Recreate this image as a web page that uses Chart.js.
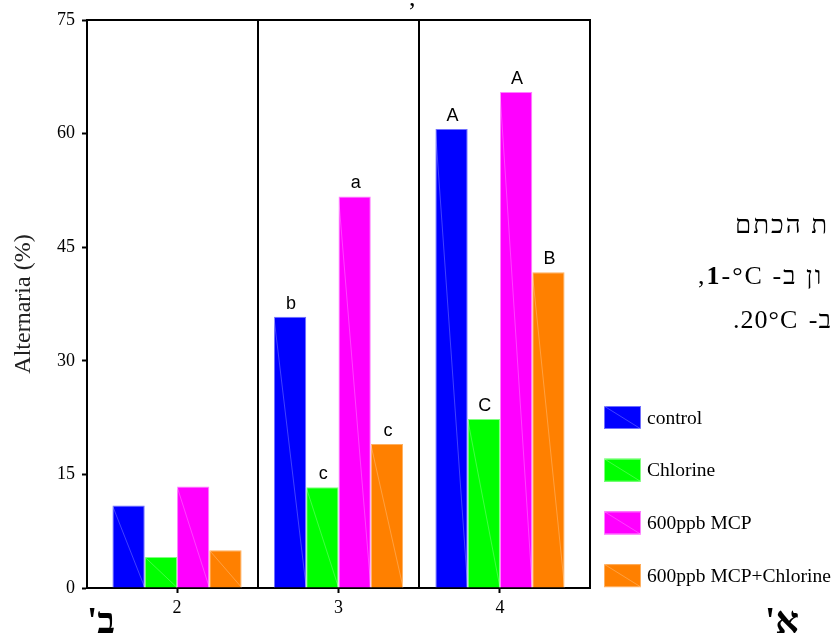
<!DOCTYPE html>
<html lang="he">
<head>
<meta charset="utf-8">
<script src="https://cdn.jsdelivr.net/npm/chart.js@4.4.1/dist/chart.umd.min.js"></script>
<style>
  html, body { margin: 0; padding: 0; width: 832px; height: 637px; overflow: hidden; background: #fff; }
  #wrap { position: relative; width: 832px; height: 637px; overflow: hidden; }
  canvas { position: absolute; left: 0; top: 0; }
  .he { position: absolute; font-family: 'Liberation Serif', serif; font-size: 26px; line-height: 1; white-space: nowrap; color: #000; }
  .big { font-weight: bold; font-size: 37px; }
</style>
</head>
<body>
<div id="wrap">
  <canvas id="chart" width="832" height="637"></canvas>
  <div class="he" style="left:409px; top:-15px;">,</div>
  <div class="he" dir="rtl" style="left:735px; top:212px; letter-spacing:2px;">ת הכתם</div>
  <div class="he" dir="rtl" style="left:698px; top:263px; letter-spacing:2px;">ון ב- <span dir="ltr"><b>1</b>-°C</span>,</div>
  <div class="he" dir="rtl" style="left:733px; top:307px; letter-spacing:1px; word-spacing:3px;">ב- <span dir="ltr">20°C</span>.</div>
  <div class="he big" dir="rtl" style="left:87px; top:602px;">ב'</div>
  <div class="he big" dir="rtl" style="left:765px; top:602px;">א'</div>
</div>
<script>
// valores
const categories = [2, 3, 4];
const seriesNames = ['control', 'Chlorine', '600ppb MCP', '600ppb MCP+Chlorine'];
const control = [10.9, 35.8, 60.6];
const chlorine = [4.1, 13.3, 22.3];
const mcp = [13.4, 51.7, 65.5];
const mcpChlorine = [5.0, 19.0, 41.7];
const letters = [
  ['', 'b', 'A'],
  ['', 'c', 'C'],
  ['', 'a', 'A'],
  ['', 'c', 'B']
];
const yTicks = [0, 15, 30, 45, 60, 75];

const serif = 'Liberation Serif';
const colores = ['#0000ff', '#00ff00', '#ff00ff', '#ff8000'];
const bordes = ['#7070ff', '#80ff80', '#ff80ff', '#ffb060'];
const series = [control, chlorine, mcp, mcpChlorine];

// marco, separadores y diagonales
const marco = {
  id: 'marco',
  beforeDatasetsDraw(chart) {
    const { ctx, chartArea: a, scales: { x } } = chart;
    ctx.save();
    ctx.strokeStyle = '#000';
    ctx.lineWidth = 2;
    ctx.beginPath();
    ctx.moveTo(a.left, a.top);
    ctx.lineTo(a.right, a.top);
    ctx.lineTo(a.right, a.bottom);
    for (let i = 0; i < categories.length - 1; i++) {
      const px = Math.round(x.getPixelForValue((categories[i] + categories[i + 1]) / 2));
      ctx.moveTo(px, a.top);
      ctx.lineTo(px, a.bottom);
    }
    ctx.stroke();
    ctx.restore();
  },
  afterDatasetsDraw(chart) {
    const { ctx } = chart;
    ctx.save();
    chart.data.datasets.forEach((ds, i) => {
      chart.getDatasetMeta(i).data.forEach((bar, j) => {
        const w = bar.width;
        // linea diagonal tenue
        ctx.strokeStyle = 'rgba(255,255,255,0.25)';
        ctx.lineWidth = 1;
        ctx.beginPath();
        ctx.moveTo(bar.x - w / 2, bar.y);
        ctx.lineTo(bar.x + w / 2, bar.base);
        ctx.stroke();
        const t = letters[i][j];
        if (!t) return;
        ctx.fillStyle = '#000';
        ctx.font = '18px "Liberation Sans"';
        ctx.textAlign = 'center';
        ctx.textBaseline = 'alphabetic';
        ctx.fillText(t, bar.x + 1, bar.y - 8);
      });
    });
    ctx.restore();
  },
  afterDraw(chart) {
    const { ctx } = chart;
    ctx.save();
    chart.data.datasets.forEach((ds, i) => {
      const cy = 417.5 + i * 52.7;
      ctx.fillStyle = ds.backgroundColor;
      ctx.fillRect(604, cy - 11.5, 37, 23);
      ctx.strokeStyle = ds.borderColor;
      ctx.lineWidth = 1;
      ctx.strokeRect(604.5, cy - 11, 36, 22);
      ctx.strokeStyle = 'rgba(255,255,255,0.25)';
      ctx.beginPath();
      ctx.moveTo(604, cy - 11.5);
      ctx.lineTo(641, cy + 11.5);
      ctx.stroke();
      ctx.fillStyle = '#000';
      ctx.font = '19.5px "' + serif + '"';
      ctx.textAlign = 'left';
      ctx.textBaseline = 'middle';
      ctx.fillText(ds.label, 647, cy + 1);
    });
    ctx.restore();
  }
};

new Chart(document.getElementById('chart'), {
  type: 'bar',
  data: {
    datasets: series.map((vals, i) => ({
      label: seriesNames[i],
      data: categories.map((c, j) => ({ x: c, y: vals[j] })),
      backgroundColor: colores[i],
      borderColor: bordes[i],
      borderWidth: 1,
      categoryPercentage: 0.8,
      barPercentage: 1.0
    }))
  },
  options: {
    responsive: false,
    animation: false,
    devicePixelRatio: 1,
    layout: { padding: { top: 20, right: 242, left: 0, bottom: 0 } },
    plugins: {
      legend: { display: false },
      tooltip: { enabled: false }
    },
    scales: {
      x: {
        type: 'linear',
        offset: false,
        min: 1.4425,
        max: 4.5575,
        afterBuildTicks: s => { s.ticks = categories.map(v => ({ value: v })); },
        afterFit: s => { s.height = 49; },
        grid: { offset: false, drawOnChartArea: false, drawTicks: true, tickLength: 5, tickWidth: 2, tickColor: '#000' },
        border: { display: true, color: '#000', width: 2 },
        ticks: { color: '#000', font: { family: serif, size: 18 }, padding: 4, maxRotation: 0 }
      },
      y: {
        min: 0,
        max: 75,
        afterBuildTicks: s => { s.ticks = yTicks.map(v => ({ value: v })); },
        afterFit: s => { s.width = 87; },
        grid: { drawOnChartArea: false, drawTicks: true, tickLength: 5, tickWidth: 2, tickColor: '#000' },
        border: { display: true, color: '#000', width: 2 },
        ticks: { color: '#000', font: { family: serif, size: 18 }, padding: 7 },
        title: {
          display: true,
          text: 'Alternaria (%)',
          color: '#222',
          font: { family: serif, size: 24 },
          padding: { top: 9, bottom: 0 }
        }
      }
    }
  },
  plugins: [marco]
});
</script>
</body>
</html>
